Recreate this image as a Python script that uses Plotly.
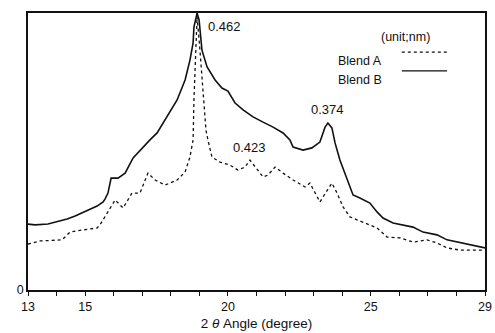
import plotly.graph_objects as go

# Blend B (solid)
xb = [13.00, 13.25, 13.70, 13.95, 14.37, 14.65, 14.89, 15.17, 15.42, 15.63, 15.70, 15.80, 15.91,
      16.15, 16.40, 16.68, 16.92, 17.27, 17.52, 17.87, 18.22, 18.50, 18.67, 18.78, 18.81, 18.92,
      18.99, 19.09, 19.27, 19.55, 19.79, 20.00, 20.25, 20.53, 20.88, 21.23, 21.58, 21.93, 22.17,
      22.28, 22.63, 22.94, 23.22, 23.40, 23.50, 23.64, 23.75, 23.92, 24.17, 24.38, 24.62, 24.97,
      25.22, 25.43, 25.78, 26.13, 26.48, 26.83, 27.32, 27.67, 28.02, 28.48, 29.00]
yb = [23.8, 23.5, 23.8, 24.5, 25.6, 26.7, 27.8, 28.9, 30.3, 31.8, 32.9, 35.0, 40.4,
      40.4, 42.2, 47.7, 50.5, 54.2, 56.7, 62.5, 68.6, 75.8, 83.0, 89.2, 94.9, 100.0,
      97.5, 86.6, 80.5, 75.8, 72.9, 71.8, 67.5, 65.0, 62.5, 60.6, 58.8, 56.7, 54.2,
      51.6, 50.5, 51.3, 53.4, 58.8, 60.3, 58.5, 53.1, 46.9, 39.7, 34.3, 33.2, 31.4,
      28.2, 26.0, 24.2, 23.5, 22.7, 20.9, 19.9, 18.1, 17.3, 16.2, 15.2]

# Blend A (dotted)
xa = [13.00, 13.42, 14.19, 14.47, 14.93, 15.42, 15.52, 15.80, 16.05, 16.33, 16.64, 16.92, 17.20,
      17.45, 17.80, 18.22, 18.50, 18.67, 18.78, 18.81, 18.88, 18.92, 19.02, 19.13, 19.23, 19.30,
      19.44, 19.72, 20.07, 20.35, 20.60, 20.77, 20.95, 21.23, 21.40, 21.65, 21.93, 22.28, 22.70,
      22.87, 23.22, 23.47, 23.64, 23.82, 24.03, 24.27, 24.73, 25.22, 25.57, 26.03, 26.48, 26.97,
      27.32, 27.67, 28.13, 29.00]
ya = [16.6, 17.7, 18.1, 20.9, 21.7, 22.4, 23.5, 28.2, 32.5, 29.6, 35.0, 35.0, 42.2,
      39.7, 37.9, 39.7, 42.6, 48.0, 54.2, 68.6, 86.6, 98.6, 86.6, 72.2, 57.8, 54.2,
      48.0, 46.2, 45.1, 43.3, 44.4, 46.9, 44.4, 40.8, 41.5, 44.4, 42.2, 39.7, 37.2,
      38.6, 31.8, 36.1, 38.6, 35.0, 30.0, 26.4, 24.5, 22.4, 19.1, 18.8, 17.3, 18.1,
      17.0, 15.2, 14.4, 14.4]

tick_vals = [13, 15, 20, 25, 29]
tick_text = ["13", "15", "20", "25", "29"]
minor_ticks = list(range(13, 30))

peak_labels = ["0.462", "0.423", "0.374"]
peak_x = [19.88, 20.74, 23.47]
peak_y = [95.3, 51.6, 65.0]

FONT = "Liberation Sans, Arial, Helvetica, sans-serif"
BLACK = "#111111"

fig = go.Figure()
fig.add_trace(go.Scatter(x=xa, y=ya, mode="lines", name="Blend A",
                         line=dict(color=BLACK, width=1.3, dash="dot"), showlegend=False))
fig.add_trace(go.Scatter(x=xb, y=yb, mode="lines", name="Blend B",
                         line=dict(color=BLACK, width=1.6), showlegend=False))

for t, x, y in zip(peak_labels, peak_x, peak_y):
    fig.add_annotation(x=x, y=y, text=t, showarrow=False, xanchor="center",
                       font=dict(size=13, color=BLACK, family=FONT))

# legend (text left, line sample right)
fig.add_annotation(xref="paper", yref="paper", x=0.884, y=0.946, text="(unit;nm)",
                   showarrow=False, font=dict(size=12.5, color=BLACK, family=FONT))
fig.add_annotation(xref="paper", yref="paper", x=0.779, y=0.859, text="Blend A",
                   xanchor="right", showarrow=False, font=dict(size=12.5, color=BLACK, family=FONT))
fig.add_annotation(xref="paper", yref="paper", x=0.779, y=0.791, text="Blend B",
                   xanchor="right", showarrow=False, font=dict(size=12.5, color=BLACK, family=FONT))
fig.add_shape(type="line", xref="paper", yref="paper", x0=0.818, x1=0.917, y0=0.859, y1=0.859,
              line=dict(color=BLACK, width=1.2, dash="dot"))
fig.add_shape(type="line", xref="paper", yref="paper", x0=0.818, x1=0.917, y0=0.791, y1=0.791,
              line=dict(color=BLACK, width=1.4))

fig.update_layout(
    width=495, height=333,
    margin=dict(l=28, r=10, t=13, b=43),
    paper_bgcolor="white", plot_bgcolor="white",
    font=dict(family=FONT, color=BLACK),
    xaxis=dict(range=[13, 29], tickmode="array", tickvals=tick_vals, ticktext=tick_text,
               automargin=False, ticklabeloverflow="allow",
               ticks="outside", ticklen=4, tickcolor=BLACK, tickwidth=1.2,
               minor=dict(tickmode="array", tickvals=minor_ticks, ticks="outside", ticklen=4,
                          tickcolor=BLACK, tickwidth=1.2),
               showgrid=False, zeroline=False, showline=True, linecolor=BLACK, linewidth=1.5,
               mirror=True, tickfont=dict(size=12.5, family=FONT),
               title=dict(text="2 <i>θ</i> Angle (degree)", font=dict(size=13.5, family=FONT),
                          standoff=6)),
    yaxis=dict(range=[0, 100], tickmode="array", tickvals=[0], ticktext=["0"],
               automargin=False, ticklabeloverflow="allow",
               ticks="", showgrid=False, zeroline=False, showline=True, linecolor=BLACK,
               linewidth=1.5, mirror=True, tickfont=dict(size=12.5, family=FONT)),
)

# remove the default page margin so the figure fills the window exactly
fig.write_html("out.html", config={"displayModeBar": False},
               post_script="document.body.style.margin='0';document.body.style.overflow='hidden';")
